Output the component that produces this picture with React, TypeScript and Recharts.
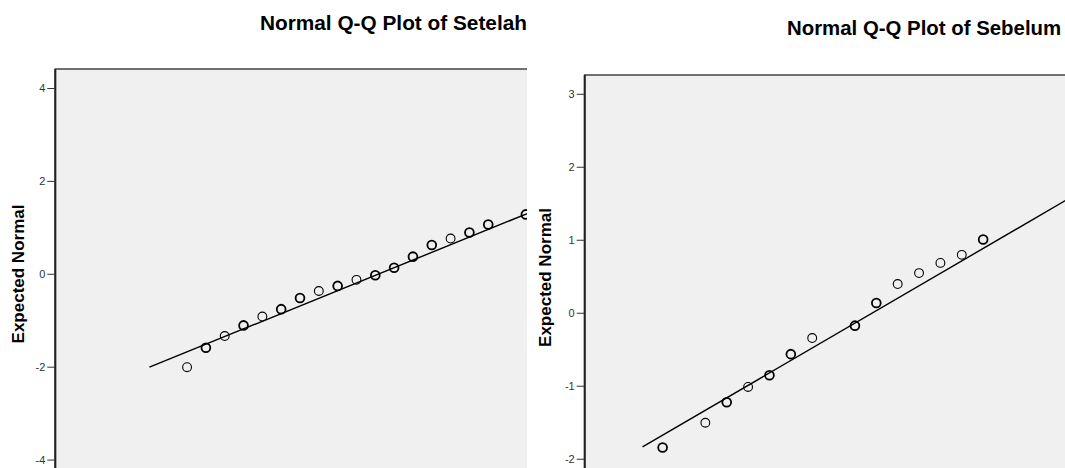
import React from "react";
import {
  ScatterChart,
  Scatter,
  XAxis,
  YAxis,
  ReferenceArea,
} from "recharts";

// Setelah: observed values, expected normal, number of tied cases
const setelahX = [7, 8, 9, 10, 11, 12, 13, 14, 15, 16, 17, 18, 19, 20, 21, 22, 23, 25];
const setelahY = [-2.0, -1.58, -1.33, -1.1, -0.91, -0.75, -0.51, -0.36, -0.25, -0.12, -0.02, 0.14, 0.38, 0.63, 0.77, 0.9, 1.07, 1.29];
const setelahTies = [1, 2, 1, 2, 1, 2, 2, 1, 2, 1, 2, 2, 2, 2, 1, 2, 2, 2];
const setelahLineX = [5, 30];
const setelahLineY = [-2.0, 2.12];
const setelahTicks = [-4, -2, 0, 2, 4];

// Sebelum
const sebelumX = [4, 6, 7, 8, 9, 10, 11, 13, 14, 15, 16, 17, 18, 19];
const sebelumY = [-1.84, -1.5, -1.22, -1.01, -0.85, -0.56, -0.34, -0.17, 0.14, 0.4, 0.55, 0.69, 0.8, 1.01];
const sebelumTies = [2, 1, 2, 1, 2, 2, 1, 2, 2, 1, 1, 1, 1, 2];
const sebelumLineX = [3.06, 24];
const sebelumLineY = [-1.83, 1.74];
const sebelumTicks = [-2, -1, 0, 1, 2, 3];

const FONT = "'Liberation Sans', Arial, sans-serif";

const toPoints = (xs: number[], ys: number[], ties?: number[]) =>
  xs.map((x, i) => ({ x, y: ys[i], n: ties ? ties[i] : 1 }));

const Ring = (props: any) => {
  const { cx, cy, payload } = props;
  if (cx == null || cy == null) return <g />;
  return (
    <circle
      cx={cx}
      cy={cy}
      r={4.4}
      fill="none"
      stroke="#000"
      strokeWidth={payload?.n > 1 ? 1.8 : 1.1}
    />
  );
};

type PanelProps = {
  points: { x: number; y: number; n: number }[];
  line: { x: number; y: number; n: number }[];
  xDomain: [number, number];
  yDomain: [number, number];
  ticks: number[];
  width: number;
  height: number;
  top: number;
  axisWidth: number;
};

const QQPanel = ({ points, line, xDomain, yDomain, ticks, width, height, top, axisWidth }: PanelProps) => (
  <ScatterChart
    width={width}
    height={height}
    margin={{ top, right: 20, bottom: 10, left: 0 }}
  >
    <XAxis type="number" dataKey="x" domain={xDomain} allowDataOverflow hide />
    <YAxis
      type="number"
      dataKey="y"
      domain={yDomain}
      ticks={ticks}
      allowDataOverflow
      width={axisWidth}
      tickSize={8}
      tickMargin={2}
      tick={{ fill: "#333", fontSize: 11, fontFamily: FONT }}
      tickLine={{ stroke: "#333" }}
      axisLine={{ stroke: "#222", strokeWidth: 2 }}
    />
    <ReferenceArea
      x1={xDomain[0]}
      x2={xDomain[1]}
      y1={yDomain[0]}
      y2={yDomain[1]}
      fill="#f0f0f0"
      fillOpacity={1}
      stroke="#444"
      strokeWidth={1.5}
      ifOverflow="visible"
    />
    <Scatter
      data={line}
      line={{ stroke: "#000", strokeWidth: 1.4 }}
      lineType="joint"
      shape={() => <g />}
      isAnimationActive={false}
    />
    <Scatter data={points} shape={Ring} isAnimationActive={false} />
  </ScatterChart>
);

export default function App() {
  return (
    <div
      style={{
        position: "fixed",
        left: 0,
        top: 0,
        width: 1065,
        height: 468,
        overflow: "hidden",
        background: "#fff",
        fontFamily: FONT,
      }}
    >
      <div style={{ position: "absolute", left: 0, top: 0, width: 527, height: 468, overflow: "hidden" }}>
        <QQPanel
          points={toPoints(setelahX, setelahY, setelahTies)}
          line={toPoints(setelahLineX, setelahLineY)}
          xDomain={[0, 30]}
          yDomain={[-4.42, 4.42]}
          ticks={setelahTicks}
          width={640}
          height={489.6}
          top={69}
          axisWidth={55.3}
        />
      </div>
      <div style={{ position: "absolute", left: 530, top: 0, width: 535, height: 468, overflow: "hidden" }}>
        <QQPanel
          points={toPoints(sebelumX, sebelumY, sebelumTies)}
          line={toPoints(sebelumLineX, sebelumLineY)}
          xDomain={[0.354, 24]}
          yDomain={[-3.264, 3.264]}
          ticks={sebelumTicks}
          width={580}
          height={561.5}
          top={75}
          axisWidth={54.7}
        />
      </div>
      <svg
        width={1065}
        height={468}
        style={{ position: "absolute", left: 0, top: 0, pointerEvents: "none" }}
      >
        <g fontFamily={FONT} fontWeight="bold" fill="#000">
          <text x={260} y={30.3} fontSize={20.8}>
            Normal Q-Q Plot of Setelah
          </text>
          <text x={787} y={35} fontSize={20.4}>
            Normal Q-Q Plot of Sebelum
          </text>
          <text transform="translate(23.5,274) rotate(-90)" textAnchor="middle" fontSize={17}>
            Expected Normal
          </text>
          <text transform="translate(550.5,277.5) rotate(-90)" textAnchor="middle" fontSize={17}>
            Expected Normal
          </text>
        </g>
      </svg>
    </div>
  );
}
